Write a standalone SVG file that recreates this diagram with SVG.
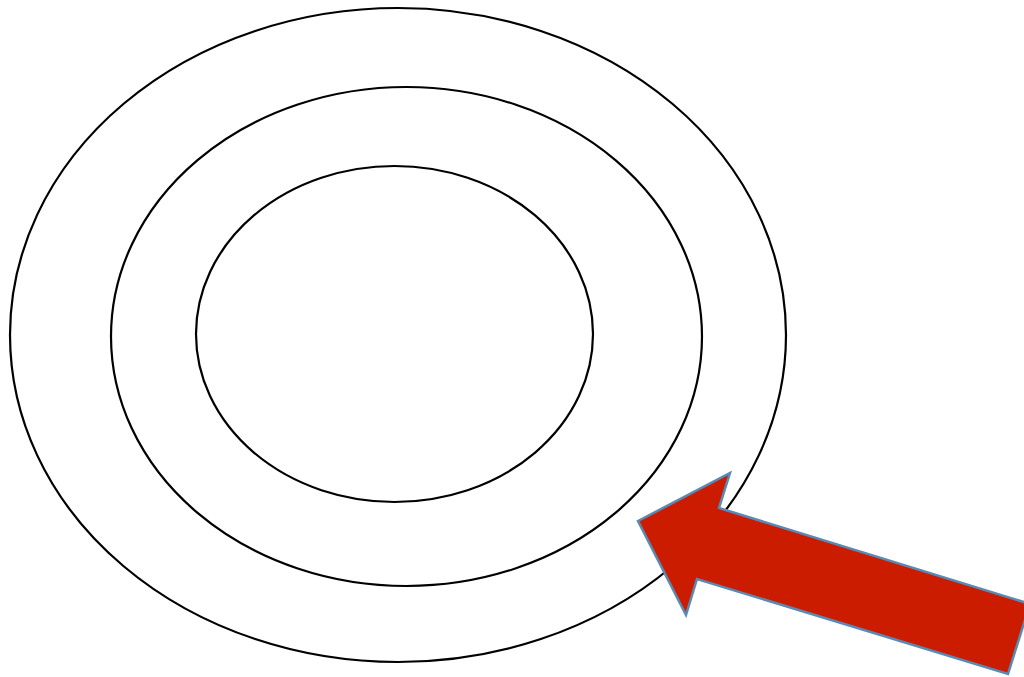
<svg xmlns="http://www.w3.org/2000/svg" width="1024" height="677" viewBox="0 0 1024 677">
<style>
.ring{fill:none;stroke:#000;stroke-width:2.2}
.arrow{fill:#cc1c00;stroke:#5a8ab4;stroke-width:2.5;stroke-linejoin:miter}
</style>
<rect width="1024" height="677" fill="#fff"/>
<g id="outer"><ellipse class="ring" cx="398" cy="335" rx="388" ry="327"/></g>
<g id="middle"><ellipse class="ring" cx="406.5" cy="336.5" rx="295.5" ry="249.5"/></g>
<g id="inner"><ellipse class="ring" cx="394.5" cy="334" rx="198.5" ry="168"/></g>
<g id="arrow"><polygon class="arrow" points="638,521 730,473 719,508 1030,604 1008,674 697,579 686,615"/></g>
</svg>
